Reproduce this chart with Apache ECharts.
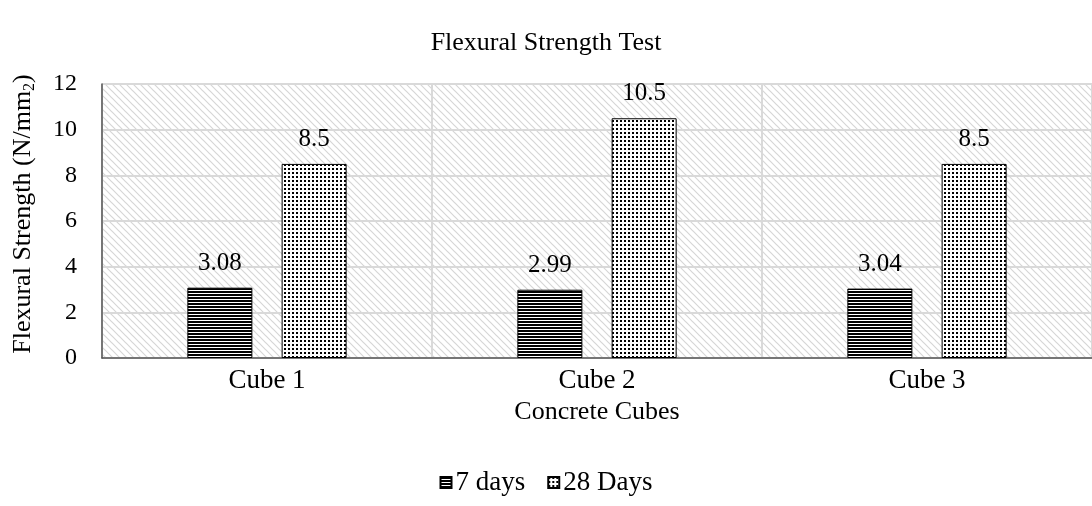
<!DOCTYPE html>
<html>
<head>
<meta charset="utf-8">
<script src="https://cdn.jsdelivr.net/npm/echarts@6/dist/echarts.min.js"></script>
<style>
  html, body { margin: 0; padding: 0; background: #fff; }
  #chart { width: 1092px; height: 506px; }
</style>
</head>
<body>
<div id="chart"></div>
<script>
const categories = ['Cube 1', 'Cube 2', 'Cube 3']
const days7 = [3.08, 2.99, 3.04]
const days28 = [8.5, 10.5, 8.5]
const yTicks = [0, 2, 4, 6, 8, 10, 12]

const font = '"Liberation Serif", "Times New Roman", serif'

// fill patterns
function makePattern(w, h, draw) {
  const c = document.createElement('canvas')
  c.width = w
  c.height = h
  const ctx = c.getContext('2d')
  ctx.fillStyle = '#fff'
  ctx.fillRect(0, 0, w, h)
  draw(ctx)
  return { image: c, repeat: 'repeat' }
}

const stripes = makePattern(3, 3, ctx => {
  ctx.fillStyle = '#000'
  ctx.fillRect(0, 0, 3, 2)
})
const dots = makePattern(4, 4, ctx => {
  ctx.fillStyle = '#000'
  ctx.fillRect(0, 0, 2, 2)
})
const hatch = makePattern(7, 7, ctx => {
  ctx.strokeStyle = '#d6d6d6'
  ctx.lineWidth = 1.2
  ctx.beginPath()
  ctx.moveTo(-1, -1); ctx.lineTo(8, 8)
  ctx.moveTo(-8, -1); ctx.lineTo(1, 8)
  ctx.moveTo(6, -1); ctx.lineTo(15, 8)
  ctx.stroke()
})

const chart = echarts.init(document.getElementById('chart'))
chart.setOption({
  animation: false,
  title: {
    text: 'Flexural Strength Test',
    left: 'center',
    top: 25,
    textStyle: { fontFamily: font, fontSize: 26, fontWeight: 'normal', color: '#000' }
  },
  legend: {
    bottom: 5,
    icon: 'rect',
    itemWidth: 11,
    itemHeight: 11,
    itemGap: 22,
    textStyle: { fontFamily: font, fontSize: 27, color: '#000', padding: [0, 0, 0, -1] },
    data: ['7 days', '28 Days']
  },
  grid: {
    left: 102,
    right: 0,
    top: 84,
    bottom: 148,
    show: true,
    borderWidth: 0,
    backgroundColor: hatch
  },
  xAxis: {
    type: 'category',
    data: categories,
    name: 'Concrete Cubes',
    nameLocation: 'middle',
    nameGap: 40,
    nameTextStyle: { fontFamily: font, fontSize: 26, color: '#000' },
    axisLine: { lineStyle: { color: '#555', width: 1.5 } },
    axisTick: { show: false },
    axisLabel: { fontFamily: font, fontSize: 27, color: '#000', margin: 9 },
    splitLine: { show: true, lineStyle: { color: '#d9d9d9', width: 2 } }
  },
  yAxis: {
    type: 'value',
    min: 0,
    max: 12,
    interval: 2,
    name: '{a|Flexural Strength (N/mm}{s|2}{a|)}',
    nameLocation: 'middle',
    nameGap: 64,
    nameTextStyle: {
      padding: [0, 0, 0, 14],
      rich: {
        a: { fontFamily: font, fontSize: 26, color: '#000' },
        s: { fontFamily: font, fontSize: 16, color: '#000', verticalAlign: 'bottom', padding: [14, 0, 0, 0] }
      }
    },
    axisLine: { show: true, lineStyle: { color: '#555', width: 1.5 } },
    axisTick: { show: false },
    axisLabel: {
      fontFamily: font, fontSize: 24, color: '#000', margin: 25,
      formatter: v => (yTicks.includes(v) ? String(v) : '')
    },
    splitLine: { lineStyle: { color: '#d9d9d9', width: 2 } }
  },
  series: [
    {
      name: '7 days',
      type: 'bar',
      data: days7,
      barWidth: '19.7%',
      barGap: '45%',
      itemStyle: { color: stripes, borderColor: '#000', borderWidth: 1 },
      label: {
        show: true, position: 'top', distance: 12,
        fontFamily: font, fontSize: 25, color: '#000'
      }
    },
    {
      name: '28 Days',
      type: 'bar',
      data: days28,
      barWidth: '19.7%',
      barGap: '45%',
      itemStyle: { color: dots, borderColor: '#000', borderWidth: 1 },
      label: {
        show: true, position: 'top', distance: 12,
        fontFamily: font, fontSize: 25, color: '#000'
      }
    }
  ]
})
</script>
</body>
</html>
